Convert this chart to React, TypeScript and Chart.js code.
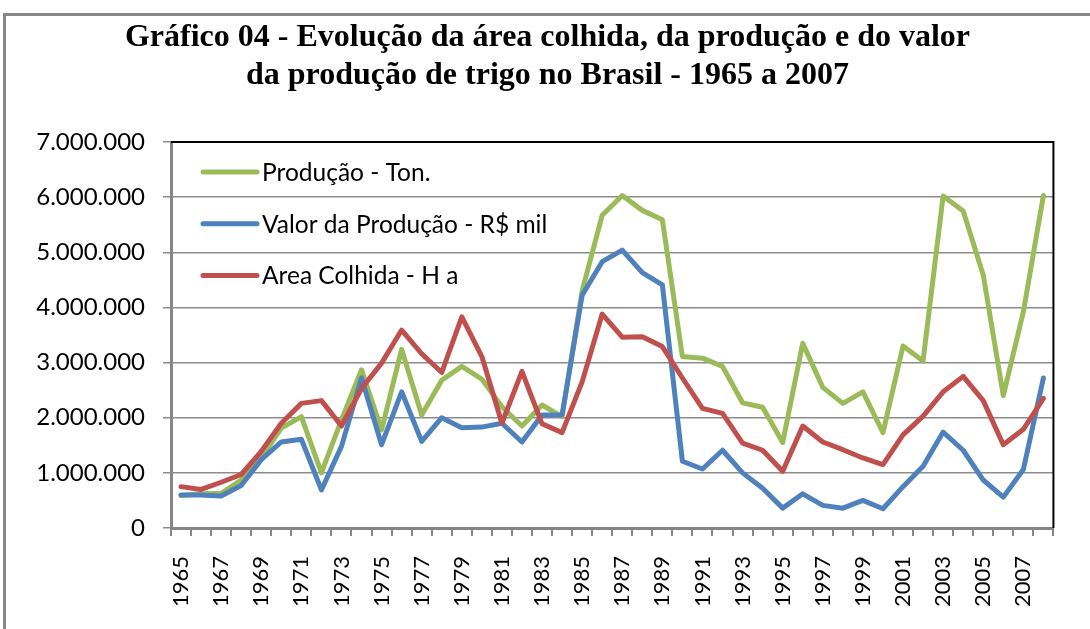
import React, { useEffect, useRef } from 'react';
import { Chart, registerables } from 'chart.js';

Chart.register(...registerables);

const years = [
  '1965', '1966', '1967', '1968', '1969', '1970', '1971', '1972', '1973', '1974',
  '1975', '1976', '1977', '1978', '1979', '1980', '1981', '1982', '1983', '1984',
  '1985', '1986', '1987', '1988', '1989', '1990', '1991', '1992', '1993', '1994',
  '1995', '1996', '1997', '1998', '1999', '2000', '2001', '2002', '2003', '2004',
  '2005', '2006', '2007', '2008',
];

const producao = [
  590000, 620000, 630000, 870000, 1270000, 1810000, 2020000, 1000000, 1960000, 2870000,
  1780000, 3240000, 2050000, 2680000, 2930000, 2700000, 2200000, 1850000, 2230000, 2020000,
  4300000, 5670000, 6030000, 5760000, 5590000, 3110000, 3080000, 2930000, 2270000, 2190000,
  1550000, 3350000, 2550000, 2260000, 2470000, 1730000, 3300000, 3030000, 6020000, 5750000,
  4590000, 2400000, 3920000, 6030000,
];

const valor = [
  600000, 600000, 580000, 770000, 1240000, 1560000, 1610000, 690000, 1480000, 2720000,
  1510000, 2470000, 1570000, 2000000, 1820000, 1830000, 1900000, 1560000, 2050000, 2050000,
  4220000, 4830000, 5040000, 4630000, 4410000, 1210000, 1070000, 1410000, 1000000, 720000,
  360000, 620000, 410000, 360000, 500000, 350000, 750000, 1120000, 1740000, 1410000,
  870000, 560000, 1060000, 2720000,
];

const area = [
  750000, 700000, 830000, 970000, 1390000, 1900000, 2260000, 2310000, 1850000, 2530000,
  2990000, 3590000, 3160000, 2820000, 3830000, 3110000, 1900000, 2840000, 1890000, 1730000,
  2650000, 3880000, 3460000, 3470000, 3290000, 2720000, 2170000, 2080000, 1540000, 1410000,
  1030000, 1850000, 1560000, 1420000, 1270000, 1150000, 1690000, 2030000, 2470000, 2750000,
  2310000, 1510000, 1790000, 2350000,
];

const seriesNames = ['Produção - Ton.', 'Valor da Produção - R$ mil', 'Area Colhida - H a'];
const seriesColors = ['#9BBB59', '#4F81BD', '#C0504D'];
const titleLines = [
  'Gráfico 04 - Evolução da área colhida, da produção e do valor',
  'da produção de trigo no Brasil - 1965 a 2007',
];

const formatThousands = (v: number) =>
  String(Math.round(v)).replace(/\B(?=(\d{3})+(?!\d))/g, '.');

const TICK_FONT = 'Lato';

const legendPlugin = {
  id: 'insideLegend',
  afterDatasetsDraw(chart: any) {
    const { ctx, chartArea } = chart;
    ctx.save();
    ctx.font = `24.5px ${TICK_FONT}`;
    ctx.textBaseline = 'middle';
    ctx.textAlign = 'left';
    [0, 1, 2].forEach((di, i) => {
      const ds = chart.data.datasets[di];
      const y = chartArea.top + 30 + i * 51.7;
      const x0 = chartArea.left + 32;
      ctx.strokeStyle = ds.borderColor;
      ctx.lineWidth = 5;
      ctx.lineCap = 'round';
      ctx.beginPath();
      ctx.moveTo(x0, y);
      ctx.lineTo(x0 + 54, y);
      ctx.stroke();
      ctx.fillStyle = '#000';
      ctx.fillText(ds.label, x0 + 59, y + 1);
    });
    ctx.restore();
  },
};

const borderPlugin = {
  id: 'plotBorder',
  afterDraw(chart: any) {
    const { ctx, chartArea } = chart;
    ctx.save();
    ctx.strokeStyle = '#000';
    ctx.lineWidth = 2;
    ctx.beginPath();
    ctx.moveTo(chartArea.left, chartArea.top);
    ctx.lineTo(chartArea.right, chartArea.top);
    ctx.lineTo(chartArea.right, chartArea.bottom);
    ctx.stroke();
    ctx.restore();
  },
};

export default function App() {
  const canvasRef = useRef<HTMLCanvasElement | null>(null);

  useEffect(() => {
    if (!canvasRef.current) return;
    const chart = new Chart(canvasRef.current, {
      type: 'line',
      data: {
        labels: years,
        datasets: [
          { label: seriesNames[0], data: producao, borderColor: seriesColors[0], order: 2 },
          { label: seriesNames[1], data: valor, borderColor: seriesColors[1], order: 1 },
          { label: seriesNames[2], data: area, borderColor: seriesColors[2], order: 0 },
        ].map((d) => ({
          ...d,
          backgroundColor: d.borderColor,
          borderWidth: 5,
          pointRadius: 0,
          tension: 0,
          fill: false,
          borderJoinStyle: 'round' as const,
          borderCapStyle: 'round' as const,
        })),
      },
      options: {
        responsive: false,
        animation: false,
        devicePixelRatio: 1,
        layout: { padding: { left: 22, right: 17, top: 0, bottom: 0 } },
        plugins: {
          legend: { display: false },
          tooltip: { enabled: false },
          title: {
            display: true,
            text: titleLines,
            color: '#000',
            font: { family: 'Liberation Serif', weight: 'bold', size: 32, lineHeight: 1.1875 },
            padding: { top: 19, bottom: 47 },
          },
        },
        scales: {
          x: {
            offset: true,
            grid: {
              offset: true,
              drawOnChartArea: false,
              drawTicks: true,
              tickLength: 8,
              color: '#868686',
              lineWidth: 2,
            },
            border: { display: true, color: '#868686', width: 3 },
            ticks: {
              autoSkip: false,
              maxRotation: 90,
              minRotation: 90,
              padding: 20,
              color: '#000',
              font: { family: TICK_FONT, size: 22 },
              callback: (_v: any, i: number) => (i % 2 === 0 ? years[i] : ''),
            },
            afterFit: (scale: any) => {
              scale.height = 101;
            },
          },
          y: {
            min: 0,
            max: 7000000,
            ticks: {
              stepSize: 1000000,
              padding: 18,
              color: '#000',
              font: { family: TICK_FONT, size: 24 },
              callback: (v: any) => formatThousands(Number(v)),
            },
            grid: {
              color: '#8c8c8c',
              lineWidth: 1.5,
              tickLength: 8,
              drawTicks: true,
            },
            border: { display: true, color: '#868686', width: 3 },
            afterFit: (scale: any) => {
              scale.width = 149;
            },
          },
        },
      },
      plugins: [legendPlugin, borderPlugin],
    });
    return () => chart.destroy();
  }, []);

  return (
    <div style={{ position: 'fixed', left: 0, top: 0, width: 1090, height: 629, overflow: 'hidden', background: '#fff' }}>
      <div
        style={{
          position: 'absolute',
          left: 3,
          top: 13,
          width: 2000,
          height: 2000,
          border: '3px solid #888',
        }}
      />
      <canvas ref={canvasRef} width={1090} height={629} style={{ position: 'absolute', left: 0, top: 0 }} />
    </div>
  );
}
